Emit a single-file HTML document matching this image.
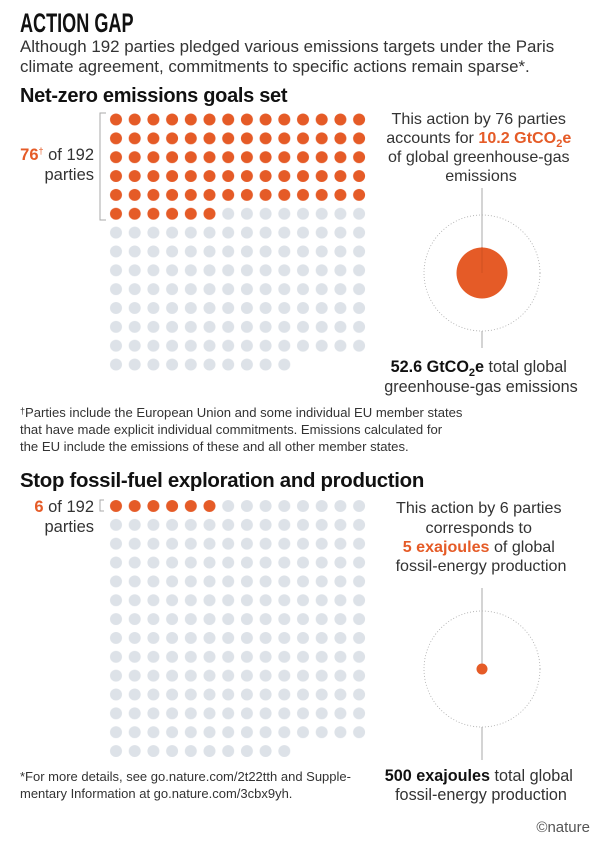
<!DOCTYPE html>
<html><head><meta charset="utf-8"><style>
html,body{margin:0;padding:0;background:#fff;}
svg{display:block;font-family:"Liberation Sans",sans-serif;}
.b{font-weight:bold;}
.o{fill:#e55b27;}
</style></head><body>
<svg width="600" height="845" viewBox="0 0 600 845" xmlns="http://www.w3.org/2000/svg">
<defs>
<pattern id="o1" patternUnits="userSpaceOnUse" x="106.65" y="110.075" width="18.7" height="18.85"><circle cx="9.35" cy="9.425" r="6" fill="#e55b27"/></pattern>
<pattern id="e1" patternUnits="userSpaceOnUse" x="106.65" y="110.075" width="18.7" height="18.85"><circle cx="9.35" cy="9.425" r="6" fill="#dde2e8"/></pattern>
<pattern id="o2" patternUnits="userSpaceOnUse" x="106.65" y="496.575" width="18.7" height="18.85"><circle cx="9.35" cy="9.425" r="6" fill="#e55b27"/></pattern>
<pattern id="e2" patternUnits="userSpaceOnUse" x="106.65" y="496.575" width="18.7" height="18.85"><circle cx="9.35" cy="9.425" r="6" fill="#dde2e8"/></pattern>
</defs>
<text x="20" y="32" class="b" font-size="27" fill="#111" transform="translate(20 0) scale(0.67 1) translate(-20 0)">ACTION GAP</text>
<text x="20" y="52" font-size="16.9" fill="#333">Although 192 parties pledged various emissions targets under the Paris</text>
<text x="20" y="72" font-size="16.9" fill="#333">climate agreement, commitments to specific actions remain sparse*.</text>
<text x="20" y="102" class="b" font-size="20" fill="#111" letter-spacing="-0.3">Net-zero emissions goals set</text>

<path d="M106 113 H100 V220 H106" fill="none" stroke="#aaa" stroke-width="1"/>
<text x="94" y="160" text-anchor="end" font-size="16.5" fill="#333"><tspan class="b o">76</tspan><tspan class="o" font-size="9" dy="-6">†</tspan><tspan dy="6"> of 192</tspan></text>
<text x="94" y="180" text-anchor="end" font-size="16.5" fill="#333">parties</text>

<rect x="106.65" y="110.075" width="261.8" height="94.25" fill="url(#o1)"/>
<rect x="106.65" y="204.325" width="112.2" height="18.85" fill="url(#o1)"/>
<rect x="218.85" y="204.325" width="149.6" height="18.85" fill="url(#e1)"/>
<rect x="106.65" y="223.175" width="261.8" height="131.95" fill="url(#e1)"/>
<rect x="106.65" y="355.125" width="187" height="18.85" fill="url(#e1)"/>

<text text-anchor="middle" font-size="16.1" fill="#333">
<tspan x="481" y="124">This action by 76 parties</tspan>
<tspan x="481" y="143">accounts for <tspan class="b o">10.2 GtCO</tspan><tspan class="b o" font-size="11" dy="4">2</tspan><tspan class="b o" dy="-4">e</tspan></tspan>
<tspan x="481" y="162">of global greenhouse-gas</tspan>
<tspan x="481" y="181">emissions</tspan>
</text>
<line x1="482" y1="188" x2="482" y2="273" stroke="#aaa"/>
<circle cx="482" cy="273" r="58" fill="none" stroke="#aaa" stroke-width="0.8" stroke-dasharray="1 2"/>
<circle cx="482" cy="273" r="25.5" fill="#e55b27"/>
<line x1="482" y1="247" x2="482" y2="273" stroke="#c85020" stroke-width="0.8"/>
<line x1="482" y1="331" x2="482" y2="348" stroke="#aaa"/>
<text text-anchor="middle" font-size="16.2" fill="#333">
<tspan x="481" y="372"><tspan class="b" fill="#111">52.6 GtCO</tspan><tspan class="b" fill="#111" font-size="11" dy="4">2</tspan><tspan class="b" fill="#111" dy="-4">e</tspan> total global</tspan>
<tspan x="481" y="392">greenhouse-gas emissions</tspan>
</text>

<text font-size="13.1" fill="#333">
<tspan x="20" y="417"><tspan font-size="9" dy="-3">†</tspan><tspan dy="3">Parties include the European Union and some individual EU member states</tspan></tspan>
<tspan x="20" y="434">that have made explicit individual commitments. Emissions calculated for</tspan>
<tspan x="20" y="451">the EU include the emissions of these and all other member states.</tspan>
</text>

<text x="20" y="487" class="b" font-size="20.4" fill="#111" letter-spacing="-0.3">Stop fossil-fuel exploration and production</text>
<path d="M104 500 H100 V511 H104" fill="none" stroke="#aaa" stroke-width="1"/>
<text x="94" y="512" text-anchor="end" font-size="16.5" fill="#333"><tspan class="b o">6</tspan> of 192</text>
<text x="94" y="532" text-anchor="end" font-size="16.5" fill="#333">parties</text>

<rect x="106.65" y="496.575" width="112.2" height="18.85" fill="url(#o2)"/>
<rect x="218.85" y="496.575" width="149.6" height="18.85" fill="url(#e2)"/>
<rect x="106.65" y="515.425" width="261.8" height="226.2" fill="url(#e2)"/>
<rect x="106.65" y="741.625" width="187" height="18.85" fill="url(#e2)"/>

<text text-anchor="middle" font-size="16.1" fill="#333">
<tspan x="481" y="513">This action by 6 parties</tspan>
<tspan x="481" y="533">corresponds to</tspan>
<tspan x="481" y="552"><tspan class="b o">5 exajoules</tspan> of global</tspan>
<tspan x="481" y="571">fossil-energy production</tspan>
</text>
<line x1="482" y1="588" x2="482" y2="669" stroke="#aaa"/>
<circle cx="482" cy="669" r="58" fill="none" stroke="#aaa" stroke-width="0.8" stroke-dasharray="1 2"/>
<circle cx="482" cy="669" r="5.5" fill="#e55b27"/>
<line x1="482" y1="727" x2="482" y2="760" stroke="#aaa"/>
<text text-anchor="middle" font-size="16.2" fill="#333">
<tspan x="481" y="781"><tspan class="b" fill="#111">500 exajoules</tspan> total global</tspan>
<tspan x="481" y="800">fossil-energy production</tspan>
</text>

<text font-size="13" fill="#333">
<tspan x="20" y="781">*For more details, see go.nature.com/2t22tth and Supple-</tspan>
<tspan x="20" y="798">mentary Information at go.nature.com/3cbx9yh.</tspan>
</text>
<text x="590" y="832" text-anchor="end" font-size="15" fill="#555">©nature</text>
</svg>
</body></html>
